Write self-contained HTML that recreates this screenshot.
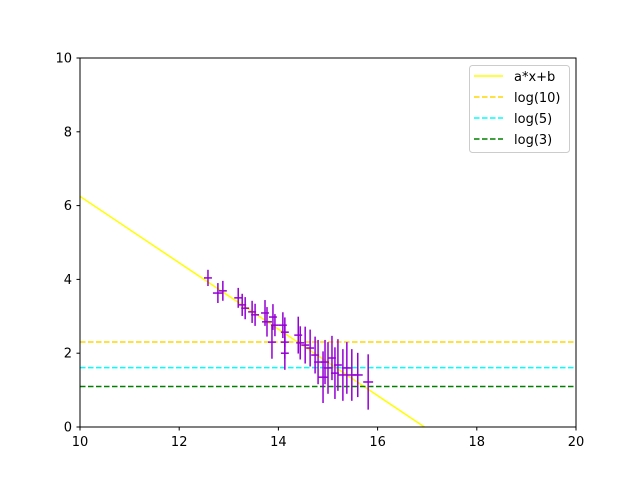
<!DOCTYPE html>
<html><head><meta charset="utf-8"><style>
html,body{margin:0;padding:0;background:#fff;width:640px;height:480px;overflow:hidden;}
svg{display:block;}
svg text{font-family:"DejaVu Sans","Liberation Sans",sans-serif;font-size:13px;fill:#000;}
</style></head><body>
<svg id="chart" width="640" height="480" xmlns="http://www.w3.org/2000/svg">
<rect width="640" height="480" fill="#fff"/>
<g id="marks"></g>
<rect x="80" y="58" width="496" height="369" fill="none" stroke="#000" stroke-width="1"/>
<g id="axes"></g>
<g>
<rect x="469.5" y="65.5" width="100" height="87" rx="3" fill="#fff" fill-opacity="0.8" stroke="#ccc"/>
<line x1="474" y1="76" x2="503" y2="76" stroke="#ffff00" stroke-width="1.5"/>
<text x="514" y="81">a*x+b</text>
<line x1="474" y1="97" x2="503" y2="97" stroke="#ffd700" stroke-width="1.5" stroke-dasharray="5.5,2.5"/>
<text x="514" y="102">log(10)</text>
<line x1="474" y1="118" x2="503" y2="118" stroke="#00ffff" stroke-width="1.5" stroke-dasharray="5.5,2.5"/>
<text x="514" y="123">log(5)</text>
<line x1="474" y1="139" x2="503" y2="139" stroke="#008000" stroke-width="1.5" stroke-dasharray="5.5,2.5"/>
<text x="514" y="144">log(3)</text>
</g>
</svg>
<script>
const xVals=[12.58,12.78,12.88,13.19,13.27,13.33,13.47,13.53,13.73,13.77,13.89,13.93,13.87,14.09,14.13,14.13,14.13,14.40,14.44,14.54,14.64,14.74,14.80,14.90,14.94,15.00,15.08,15.14,15.20,15.30,15.38,15.48,15.60,15.81];
const yVals=[4.04,3.63,3.69,3.50,3.31,3.22,3.12,3.04,3.09,2.85,2.98,2.76,2.30,2.76,2.57,2.30,2.00,2.49,2.28,2.22,2.14,1.95,1.76,1.35,1.76,1.60,1.87,1.46,1.68,1.41,1.60,1.41,1.41,1.22];
const yErr=[0.22,0.27,0.27,0.27,0.3,0.3,0.3,0.3,0.35,0.4,0.35,0.3,0.45,0.35,0.4,0.45,0.45,0.5,0.45,0.5,0.5,0.5,0.6,0.7,0.6,0.7,0.6,0.7,0.7,0.7,0.7,0.7,0.6,0.75];
const xErr=[0.08,0.1,0.08,0.08,0.08,0.08,0.08,0.08,0.08,0.1,0.08,0.08,0.08,0.08,0.08,0.08,0.08,0.08,0.08,0.08,0.08,0.08,0.08,0.1,0.08,0.08,0.08,0.08,0.08,0.1,0.1,0.1,0.1,0.1];
const fitA=-0.9, fitB=15.25;
const hLines=[Math.log(10),Math.log(5),Math.log(3)];
const hColors=["#ffd700","#00ffff","#008000"];
const hNames=["log10-line","log5-line","log3-line"];
const xTicks=[10,12,14,16,18,20];
const yTicks=[0,2,4,6,8,10];
const NS="http://www.w3.org/2000/svg";
const X=v=>80+(v-10)*49.6;
const Y=v=>427-v*36.9;
const marks=document.getElementById('marks'), axes=document.getElementById('axes');
function mk(tag,attrs,parent){const e=document.createElementNS(NS,tag);for(const k in attrs)e.setAttribute(k,attrs[k]);parent.appendChild(e);return e;}
const clip=mk('clipPath',{id:'pc'},marks);mk('rect',{x:80,y:58,width:496,height:369},clip);
const g=mk('g',{'clip-path':'url(#pc)'},marks);
const fit=mk('line',{x1:X(10),y1:Y(fitA*10+fitB),x2:X(20),y2:Y(fitA*20+fitB),stroke:'#ffff00','stroke-width':1.5},g);


hLines.forEach((v,i)=>{const l=mk('line',{x1:X(10),y1:Y(v),x2:X(20),y2:Y(v),stroke:hColors[i],'stroke-width':1.5,'stroke-dasharray':'5.5,2.5'},g);

});
xVals.forEach((x,i)=>{const y=yVals[i];
const e=mk('g',{stroke:'#9400d3','stroke-width':1.5},g);


mk('line',{x1:X(x),y1:Y(y-yErr[i]),x2:X(x),y2:Y(y+yErr[i])},e);
mk('line',{x1:X(x-xErr[i]),y1:Y(y),x2:X(x+xErr[i]),y2:Y(y)},e);});
xTicks.forEach(t=>{mk('line',{x1:X(t),y1:427,x2:X(t),y2:430.5,stroke:'#000'},axes);
const tx=mk('text',{x:X(t),y:446,'text-anchor':'middle'},axes);tx.textContent=t;

});
yTicks.forEach(t=>{mk('line',{x1:76.5,y1:Y(t),x2:80,y2:Y(t),stroke:'#000'},axes);
const tx=mk('text',{x:72,y:Y(t)+4.5,'text-anchor':'end'},axes);tx.textContent=t;

});
</script>
</body></html>
